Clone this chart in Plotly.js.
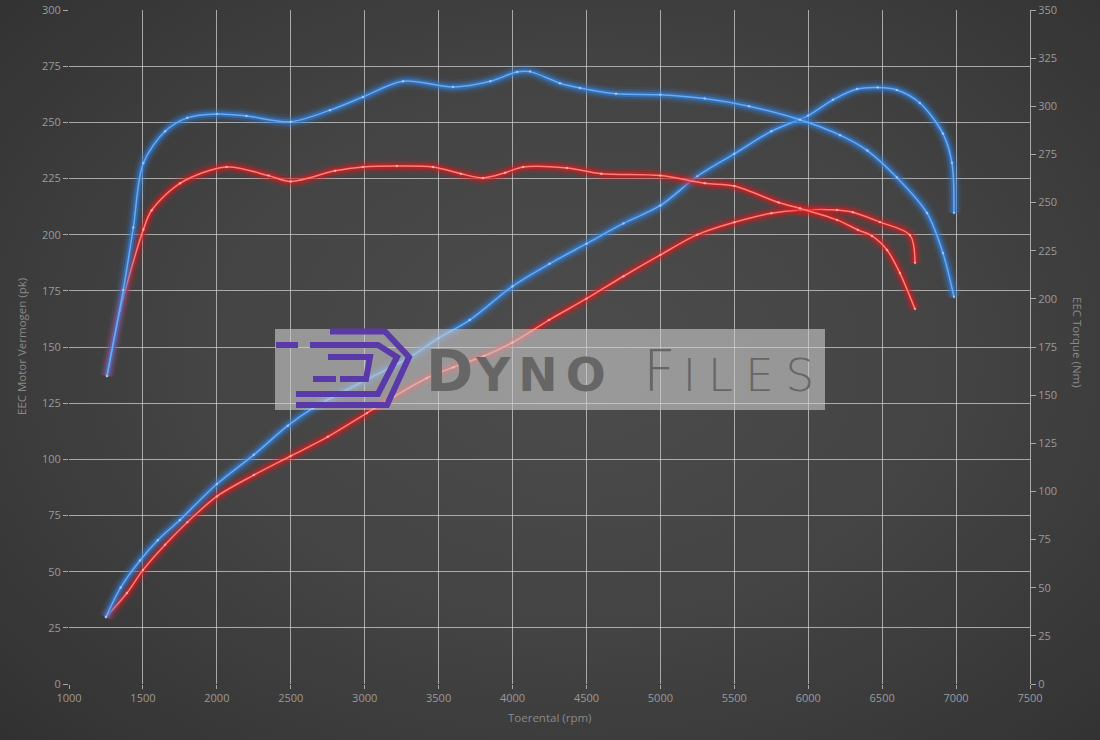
<!DOCTYPE html>
<html>
<head>
<meta charset="utf-8">
<script src="https://cdn.plot.ly/plotly-3.0.1.min.js"></script>
<style>
html,body{margin:0;padding:0;width:1100px;height:740px;overflow:hidden;
background: radial-gradient(ellipse 75% 80% at 52% 48%, #4c4c4c 0%, #444444 45%, #373737 80%, #2f2f2f 100%);}
#chart{width:1100px;height:740px;}
</style>
</head>
<body>
<div id="chart"></div>
<script>
// ---- data ----
var rpmBluePower = [1250,1350,1480,1600,1750,2000,2250,2480,2650,3000,3306,3500,3710,4000,4250,4500,4750,5000,5250,5500,5750,6000,6167,6330,6470,6600,6755,6911,6972,6986];
var bluePower    = [29.8,43,55,64,73,89,102,115,122.8,135,145.5,154,162,177,187,196,205,213,226,236,246,253,260,264.8,265.5,264.4,258.6,245,232,209.6];

var rpmRedPower = [1250,1392,1500,1650,1800,2000,2250,2500,2750,3015,3200,3421,3600,3807,4000,4246,4500,4750,5000,5250,5500,5750,5950,6195,6303,6485,6688,6722];
var redPower    = [29.8,40.5,50.7,62,72,83.5,93,101.5,110,120.6,128,136.2,141,146,152,162,171.5,181.5,191,200,205.5,209.5,211,211,210,205.6,199.8,187.4];

var rpmBlueTorque = [1257,1367,1435,1503,1650,1800,2000,2200,2500,2765,2988,3259,3597,3850,4030,4118,4321,4456,4700,5000,5300,5600,5944,6215,6400,6600,6803,6911,6986];
var blueTorque    = [160,204.6,237,270.5,287,294,296,295,292,298,304.8,313,310,313,317.8,318,312,309.5,306.5,306,304,300,293,285,277,263,244.6,223.8,201];

var rpmRedTorque = [1257,1345,1503,1559,1751,2066,2350,2500,2800,2988,3218,3462,3650,3800,3950,4071,4368,4600,5000,5300,5500,5800,5944,6195,6336,6431,6533,6620,6722];
var redTorque    = [160,194,236,246,260,268.5,264,261,266.5,268.5,269,268.5,265,262.8,265.5,268.5,268,265,264,260,258.6,250,247,241,235.8,232.7,225.4,213.4,194.7];

var xTicks = [1000,1500,2000,2500,3000,3500,4000,4500,5000,5500,6000,6500,7000,7500];

// ---- layout helpers (plot area in pixels) ----
var L = 69, R = 1030, T = 10, B = 684;
function px(x){ return (x - L) / (R - L); }
function py(y){ return (B - y) / (B - T); }

function glowTraces(xs, ys, axis, glow, core, dot){
  function t(w, c, extra){
    var o = {x: xs, y: ys, yaxis: axis, mode: 'lines', hoverinfo: 'skip', showlegend: false,
             line: {shape: 'spline', smoothing: 0.9, width: w, color: c}};
    if (extra) for (var k in extra) o[k] = extra[k];
    return o;
  }
  return [
    t(15, glow.replace('A', '0.10')),
    t(10, glow.replace('A', '0.22')),
    t(5.5, glow.replace('A', '0.5')),
    t(1.5, core, {mode: 'lines+markers', marker: {size: 2.5, color: dot}})
  ];
}

var traces = [];
traces = traces.concat(glowTraces(rpmRedPower, redPower, 'y', 'rgba(225,25,30,A)', '#ff8076', 'rgba(255,210,205,0.6)'));
traces = traces.concat(glowTraces(rpmRedTorque, redTorque, 'y2', 'rgba(225,25,30,A)', '#ff8076', 'rgba(255,210,205,0.6)'));
traces = traces.concat(glowTraces(rpmBluePower, bluePower, 'y', 'rgba(50,130,225,A)', '#66acf8', 'rgba(200,225,255,0.6)'));
traces = traces.concat(glowTraces(rpmBlueTorque, blueTorque, 'y2', 'rgba(50,130,225,A)', '#66acf8', 'rgba(200,225,255,0.6)'));

function pathFrom(pts){
  return pts.map(function(p, i){ return (i ? 'L' : 'M') + px(p[0]).toFixed(4) + ',' + py(p[1]).toFixed(4); }).join(' ');
}
var purple = '#5a3aa8';
var logoLines = [
  [[330,331.5],[385,331.5],[409,357],[387,405],[296,405]],
  [[310,345],[378,345],[397,357],[378,394],[296,394]],
  [[276,345],[298,345]],
  [[328,357],[370,357],[366,379],[340,379]],
  [[313,379],[336,379]]
];
var shapes = [{
  type: 'rect', xref: 'paper', yref: 'paper', layer: 'above',
  x0: px(275), x1: px(825), y0: py(410), y1: py(329),
  fillcolor: 'rgba(205,205,205,0.6)', line: {width: 0}
}];
logoLines.forEach(function(pts){
  shapes.push({type: 'path', xref: 'paper', yref: 'paper', layer: 'above',
    path: pathFrom(pts), line: {color: purple, width: 6}});
});

var axisFont = {family: 'Open Sans, DejaVu Sans, sans-serif', size: 11, color: '#9a9a9a'};
var titleFont = {family: 'Open Sans, DejaVu Sans, sans-serif', size: 11.5, color: '#8a8a8a'};

var layout = {
  width: 1100, height: 740,
  margin: {l: L, r: 1100 - R, t: T, b: 740 - B},
  paper_bgcolor: 'rgba(0,0,0,0)', plot_bgcolor: 'rgba(0,0,0,0)',
  showlegend: false, hovermode: false,
  xaxis: {range: [1000, 7500], tickvals: xTicks, ticktext: xTicks.map(String),
          showgrid: true, gridcolor: 'rgba(205,205,205,0.75)', gridwidth: 1,
          zeroline: false, showline: false, ticks: 'outside', ticklen: 4,
          tickcolor: 'rgba(205,205,205,0.75)', tickfont: axisFont},
  yaxis: {range: [0, 300], dtick: 25, showgrid: true, gridcolor: 'rgba(205,205,205,0.75)', gridwidth: 1,
          zeroline: false, showline: false, ticks: 'outside', ticklen: 5,
          tickcolor: 'rgba(205,205,205,0.75)', tickfont: axisFont},
  yaxis2: {range: [0, 350], dtick: 25, overlaying: 'y', side: 'right', showgrid: false,
           zeroline: false, showline: true, linecolor: 'rgba(205,205,205,0.75)', linewidth: 1,
           ticks: 'outside', ticklen: 5, tickcolor: 'rgba(205,205,205,0.75)', tickfont: axisFont},
  shapes: shapes,
  annotations: [
    {text: 'EEC Motor Vermogen (pk)', xref: 'paper', yref: 'paper', x: px(21), y: py(347),
     textangle: -90, showarrow: false, font: titleFont, xanchor: 'center', yanchor: 'middle'},
    {text: 'EEC Torque (Nm)', xref: 'paper', yref: 'paper', x: px(1078), y: py(342),
     textangle: 90, showarrow: false, font: titleFont, xanchor: 'center', yanchor: 'middle'},
    {text: 'Toerental (rpm)', xref: 'paper', yref: 'paper', x: px(549), y: py(717),
     showarrow: false, font: titleFont, xanchor: 'center', yanchor: 'middle'},
    {text: '<b><span style="letter-spacing:3px">D</span><span style="font-size:47px;letter-spacing:8px">YNO</span></b>',
     xref: 'paper', yref: 'paper', x: px(424), y: py(371), xanchor: 'left', yanchor: 'middle',
     showarrow: false, font: {family: 'DejaVu Sans, sans-serif', size: 57, color: '#666666'}},
    {text: '<span style="letter-spacing:7px">F</span><span style="font-size:45px;letter-spacing:12px">ILES</span>',
     xref: 'paper', yref: 'paper', x: px(641), y: py(371), xanchor: 'left', yanchor: 'middle',
     showarrow: false, font: {family: 'DejaVu Sans, sans-serif', size: 57, color: '#666666', weight: 300}}
  ]
};

Plotly.newPlot('chart', traces, layout, {displayModeBar: false, staticPlot: true});
</script>
</body>
</html>
